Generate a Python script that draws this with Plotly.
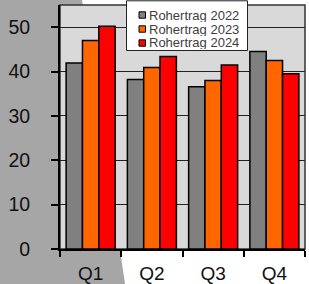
import plotly.graph_objects as go

categories = ["Q1", "Q2", "Q3", "Q4"]
series_names = ["Rohertrag 2022", "Rohertrag 2023", "Rohertrag 2024"]
values_2022 = [41.9, 38.2, 36.6, 44.5]
values_2023 = [47.0, 40.9, 38.0, 42.5]
values_2024 = [50.2, 43.4, 41.5, 39.5]
series_values = [values_2022, values_2023, values_2024]
colors = ["#808080", "#ff6600", "#ff0000"]
y_ticks = [0, 10, 20, 30, 40, 50]

W, H = 309, 284
ML, MR, MT, MB = 60, 4, 5, 35
PW, PH = W - ML - MR, H - MT - MB


def px(x):
    return (x - ML) / PW


def py(y):
    return (H - MB - y) / PH


FONT = "Liberation Sans, Arial, sans-serif"

fig = go.Figure()
for name, vals, col in zip(series_names, series_values, colors):
    fig.add_trace(go.Bar(
        x=categories, y=vals, name=name,
        marker=dict(color=col, line=dict(color="#000000", width=1.5)),
        showlegend=False,
    ))

shapes = []
# grey background wedge on the left
shapes.append(dict(
    type="path", xref="paper", yref="paper", layer="below",
    path=f"M {px(-5)},{py(-5)} L {px(81.3)},{py(-5)} L {px(126)},{py(290)} L {px(-5)},{py(290)} Z",
    fillcolor="#a6a6a6", line=dict(width=0),
))
# plot area background with border
shapes.append(dict(
    type="rect", xref="paper", yref="paper", layer="below",
    x0=0, x1=1, y0=0, y1=1,
    fillcolor="#d9d9d9", line=dict(color="#333333", width=1.5),
))

annotations = []
# custom legend box
shapes.append(dict(
    type="rect", xref="paper", yref="paper", layer="above",
    x0=px(126.5), x1=px(247.5), y0=py(50.5), y1=py(0.8),
    fillcolor="#ffffff", line=dict(color="#222222", width=1),
))
row_y = [15, 29, 43]
for name, col, ry in zip(series_names, colors, row_y):
    shapes.append(dict(
        type="rect", xref="paper", yref="paper", layer="above",
        x0=px(139), x1=px(145.5), y0=py(ry + 3.2), y1=py(ry - 3.2),
        fillcolor=col, line=dict(color="#000000", width=1),
    ))
    annotations.append(dict(
        x=px(147.5), y=py(ry), xref="paper", yref="paper",
        xanchor="left", yanchor="middle", showarrow=False,
        height=13, valign="middle", borderpad=0,
        text=name, font=dict(family=FONT, size=13, color="#404040"),
    ))

fig.update_layout(
    width=W, height=H,
    margin=dict(l=ML, r=MR, t=MT, b=MB, autoexpand=False),
    paper_bgcolor="#ffffff",
    plot_bgcolor="rgba(0,0,0,0)",
    barmode="group", bargap=0.2, bargroupgap=0,
    shapes=shapes, annotations=annotations,
    showlegend=False,
    font=dict(family=FONT, color="#111111"),
)
fig.update_xaxes(
    automargin=False,
    tickson="boundaries", ticks="outside", ticklen=6, tickwidth=1.5, tickcolor="#000000",
    showline=True, linecolor="#000000", linewidth=2,
    showgrid=False, tickfont=dict(family=FONT, size=19, color="#111111"),
    ticklabelstandoff=6,
)
fig.update_yaxes(
    automargin=False,
    range=[0, 55], tickvals=y_ticks, ticks="outside", ticklen=7, tickwidth=1.5, tickcolor="#000000",
    showline=True, linecolor="#000000", linewidth=2,
    showgrid=True, gridcolor="#222222", gridwidth=1.2, zeroline=False,
    tickfont=dict(family=FONT, size=19.5, color="#111111"),
    ticklabelstandoff=17,
)

fig.write_html(
    "out.html",
    config={"displayModeBar": False},
    post_script="document.body.style.margin='0';document.body.style.overflow='hidden';",
)
